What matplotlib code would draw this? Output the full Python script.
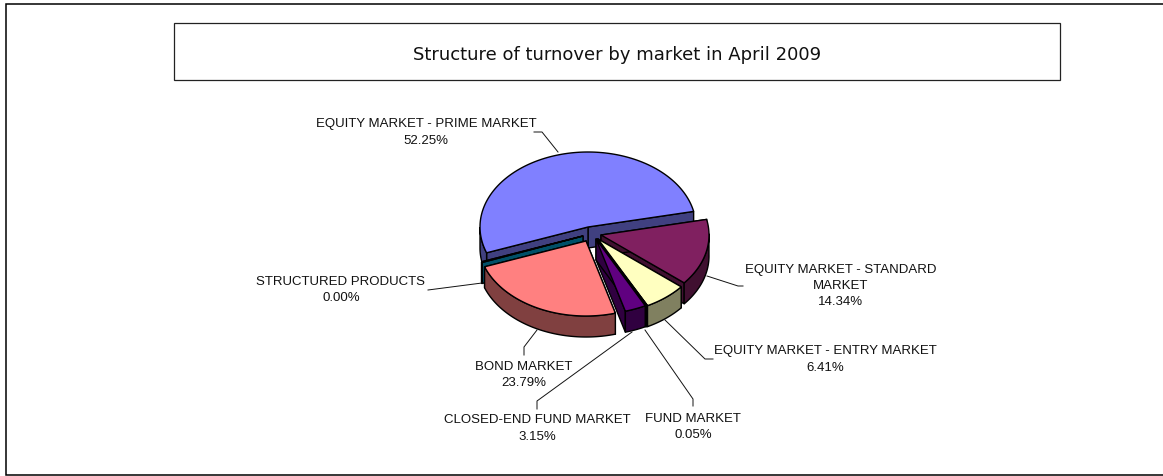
import numpy as np
import matplotlib
matplotlib.use("Agg")
import matplotlib.pyplot as plt
from matplotlib.patches import Rectangle

TITLE = "Structure of turnover by market in April 2009"
labels = ["EQUITY MARKET - PRIME MARKET", "STRUCTURED PRODUCTS", "BOND MARKET",
          "CLOSED-END FUND MARKET", "FUND MARKET", "EQUITY MARKET - ENTRY MARKET",
          "EQUITY MARKET - STANDARD\nMARKET"]
values = [52.25, 0.00, 23.79, 3.15, 0.05, 6.41, 14.34]
top_colors = ["#8080FF", "#005A78", "#FF8080", "#600080", "#A6CAF0", "#FFFFC0", "#802060"]
side_colors = ["#404080", "#005068", "#804040", "#300040", "#536578", "#808060", "#401030"]
draw_order = [0, 1, 6, 5, 4, 3, 2]

# slice apex positions in pixels (each slice is pulled out of the pie)
apex = [(588, 228), (583, 237), (586, 242), (596, 240), (597, 240), (598, 240), (601, 236)]
label_xy = [(426, 132.5), (341, 290), (524, 375), (537, 428.5), (693, 427), (825.5, 359.5), (841, 286)]
leaders = [[(534, 133), (542, 133), (558, 153)], [(428, 291), (482, 284)],
           [(524, 356), (524, 348), (537, 331)], [(537, 410), (537, 402), (632, 333)],
           [(693, 407), (693, 400), (645, 331)], [(713, 360), (705, 360), (665, 321)],
           [(743, 287), (738, 287), (707, 277)]]

A, B, DEPTH = 108, 75, 21
START = 12.0

fig = plt.figure(figsize=(11.63, 4.77), dpi=100)
ax = fig.add_axes([0, 0, 1, 1])
ax.set_xlim(0, 1163)
ax.set_ylim(477, 0)
ax.axis("off")

ax.add_patch(Rectangle((5.5, 4.5), 1180, 471.5, fc="white", ec="black", lw=1.1))
ax.add_patch(Rectangle((174, 23.5), 886, 57, fc="white", ec="#222222", lw=0.9))
ax.text(617.5, 55, TITLE, ha="center", va="center", fontsize=13,
        family="DejaVu Sans", color="#111111")

fractions = np.array(values) / sum(values)
spans = fractions * 360
starts = START + np.concatenate([[0], np.cumsum(spans)[:-1]])


def xy(theta, ox, oy):
    t = np.radians(theta)
    return ox + A * np.cos(t), oy - B * np.sin(t)


for i in draw_order:
    a0, span = starts[i], max(spans[i], 0.6)
    ox, oy = apex[i]
    th = np.linspace(a0, a0 + span, 160)
    ex, ey = xy(th, ox, oy)
    for edge in (a0, a0 + span):
        x1, y1 = xy(edge, ox, oy)
        ax.fill([ox, x1, x1, ox], [oy, y1, y1 + DEPTH, oy + DEPTH],
                fc=side_colors[i], ec="black", lw=1.0, joinstyle="round")
    mask = np.sin(np.radians(th)) <= 0.02
    if mask.any():
        ax.fill(np.r_[ex[mask], ex[mask][::-1]], np.r_[ey[mask], ey[mask][::-1] + DEPTH],
                fc=side_colors[i], ec="black", lw=1.0)
    ax.fill(np.r_[ox, ex], np.r_[oy, ey], fc=top_colors[i], ec="black", lw=1.0)

for pts in leaders:
    ax.plot(*zip(*pts), color="#111111", lw=0.7)

for lab, v, (x, y) in zip(labels, values, label_xy):
    ax.text(x, y, f"{lab}\n{v:.2f}%", ha="center", va="center", fontsize=9.5,
            family="Liberation Sans", color="#111111", linespacing=1.45)

fig.savefig("out.png", dpi=100)
